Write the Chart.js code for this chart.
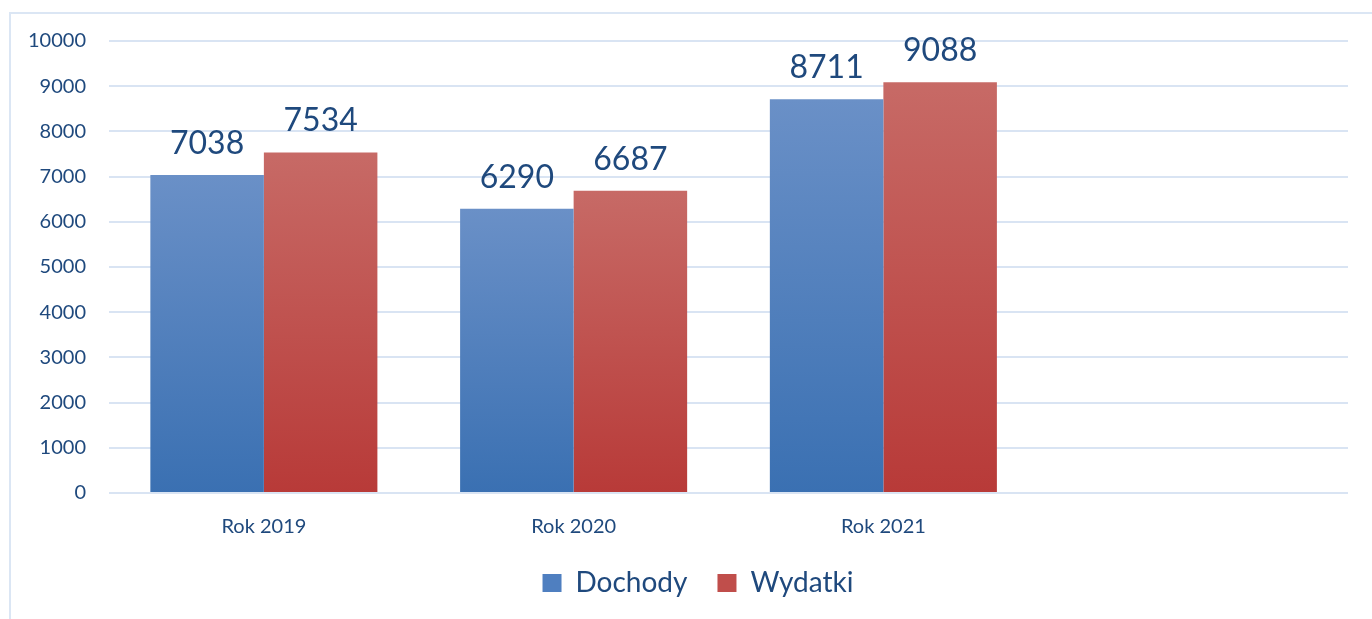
<!DOCTYPE html>
<html>
<head>
<meta charset="utf-8">
<script src="https://cdn.jsdelivr.net/npm/chart.js@4"></script>
<style>
  html, body { margin: 0; padding: 0; background: #fff; }
  #wrap { position: relative; width: 1372px; height: 619px; overflow: hidden; }
  #frame { position: absolute; left: 9px; top: 12px; width: 1400px; height: 700px;
           border: 2px solid #dbe6f4; box-sizing: border-box; }
  canvas { position: absolute; left: 0; top: 0; }
</style>
</head>
<body>
<div id="wrap">
  <div id="frame"></div>
  <canvas id="budgetChart" width="1372" height="619"></canvas>
</div>
<script>
const categories = ['Rok 2019', 'Rok 2020', 'Rok 2021', ''];
const dochody = [7038, 6290, 8711, null];
const wydatki = [7534, 6687, 9088, null];
const yTicks = [0, 1000, 2000, 3000, 4000, 5000, 6000, 7000, 8000, 9000, 10000];

const textColor = '#1f497d';
const fontName = 'Lato, "Open Sans", sans-serif';

// gradient per bar, jasniejszy u gory
function barGradient(top, bottom) {
    return function(context) {
        const chart = context.chart;
        const area = chart.chartArea;
        if (!area || context.raw == null) return bottom;
        const y = chart.scales.y;
        const y0 = y.getPixelForValue(context.raw);
        const y1 = y.getPixelForValue(0);
        const g = chart.ctx.createLinearGradient(0, y0, 0, y1);
        g.addColorStop(0, top);
        g.addColorStop(1, bottom);
        return g;
    };
}

const valueLabels = {
    id: 'valueLabels',
    afterLayout(chart) {
        // legenda troche w prawo, jak w oryginale
        chart.legend.left += 24;
        chart.legend.right += 24;
    },
    afterDatasetsDraw(chart) {
        const ctx = chart.ctx;
        ctx.save();
        ctx.font = '32px ' + fontName;
        ctx.fillStyle = textColor;
        ctx.textAlign = 'center';
        ctx.textBaseline = 'alphabetic';
        chart.data.datasets.forEach((ds, i) => {
            chart.getDatasetMeta(i).data.forEach((bar, j) => {
                if (ds.data[j] == null) return;
                ctx.fillText(String(ds.data[j]), bar.x, bar.y - 21);
            });
        });
        ctx.restore();
    }
};

new Chart(document.getElementById('budgetChart'), {
    type: 'bar',
    data: {
        labels: categories,
        datasets: [{
            label: 'Dochody',
            data: dochody,
            backgroundColor: barGradient('#6a90c7', '#3a70b2')
        }, {
            label: 'Wydatki',
            data: wydatki,
            backgroundColor: barGradient('#c76a66', '#b83a38')
        }]
    },
    options: {
        responsive: false,
        animation: false,
        layout: { padding: { top: 41, right: 24, bottom: 12, left: 0 } },
        datasets: { bar: { barPercentage: 1, categoryPercentage: 0.733 } },
        scales: {
            x: {
                afterFit: s => { s.height -= 14; },
                grid: { display: false },
                border: { display: false },
                ticks: { color: textColor, font: { family: fontName, size: 20 }, padding: 14 }
            },
            y: {
                min: 0,
                max: 10000,
                afterFit: s => { s.width = 109; },
                afterBuildTicks: s => { s.ticks = yTicks.map(v => ({ value: v })); },
                grid: { color: '#d9e4f3', lineWidth: 2, drawTicks: false },
                border: { display: false },
                ticks: {
                    color: textColor,
                    font: { family: fontName, size: 20 },
                    padding: 23,
                    callback: v => String(v)
                }
            }
        },
        plugins: {
            tooltip: { enabled: false },
            legend: {
                position: 'bottom',
                labels: {
                    color: textColor,
                    font: { family: fontName, size: 28 },
                    boxWidth: 19,
                    boxHeight: 18,
                    padding: 30,
                    generateLabels: () => [
                        { text: 'Dochody', fillStyle: '#4f7fc0', strokeStyle: '#4f7fc0', lineWidth: 0, fontColor: textColor, datasetIndex: 0 },
                        { text: 'Wydatki', fillStyle: '#c04e4b', strokeStyle: '#c04e4b', lineWidth: 0, fontColor: textColor, datasetIndex: 1 }
                    ]
                }
            }
        }
    },
    plugins: [valueLabels]
});
</script>
</body>
</html>
